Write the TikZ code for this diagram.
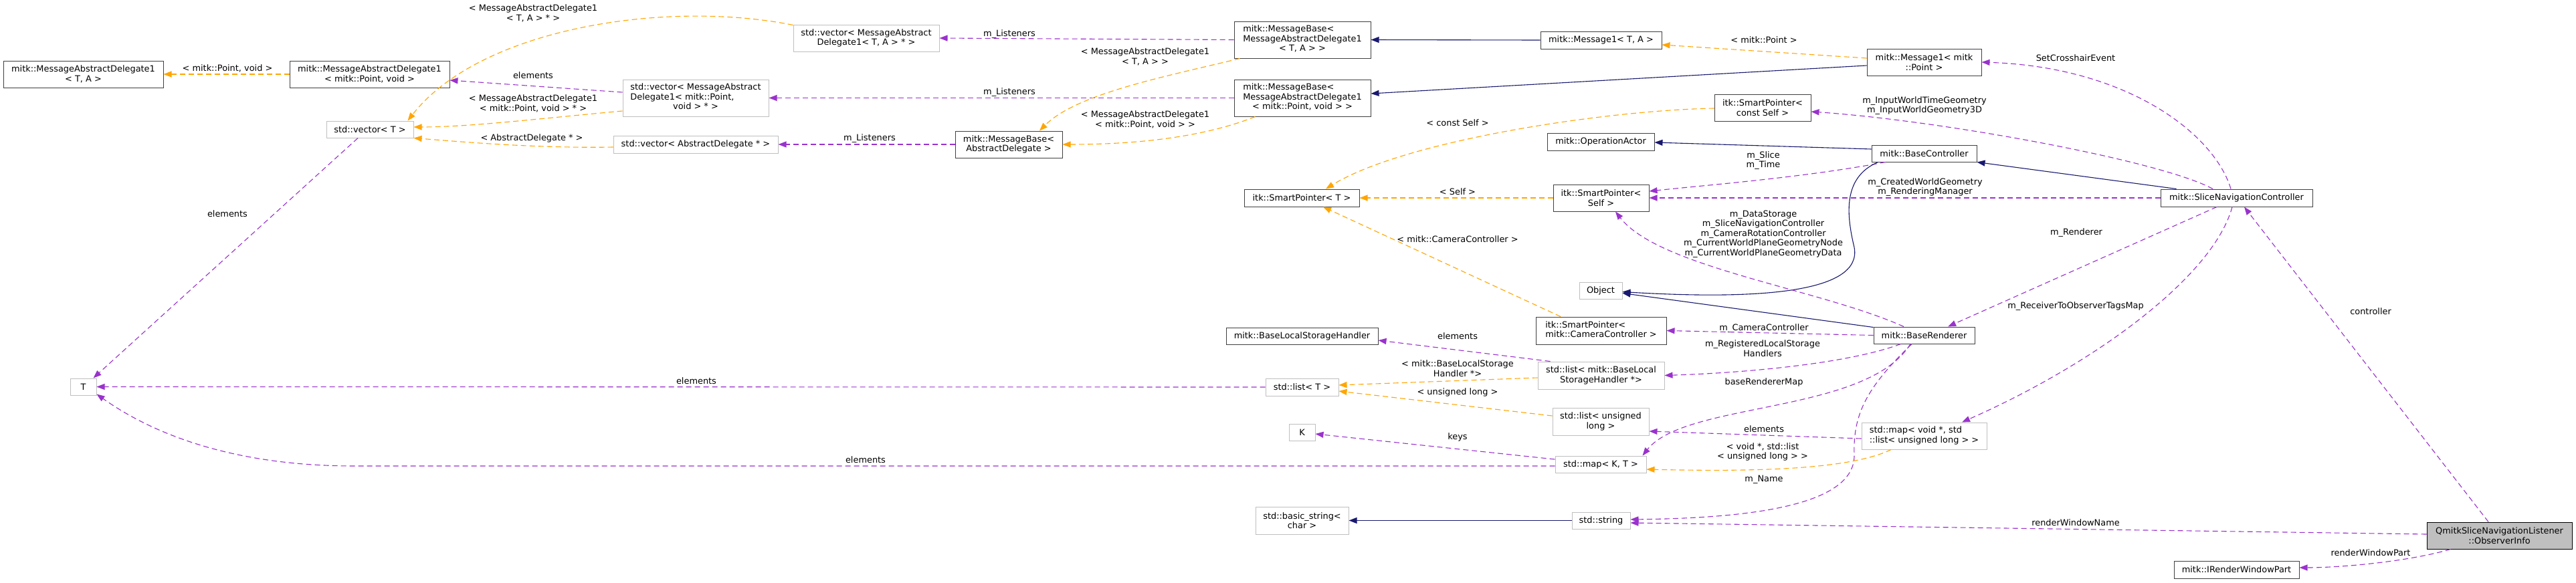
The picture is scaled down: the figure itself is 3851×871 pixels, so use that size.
\documentclass[tikz,border=0pt]{standalone}
\usepackage{fontspec}
\setmainfont{DejaVu Sans}
\usetikzlibrary{arrows.meta,calc}
\definecolor{edgepurple}{HTML}{9A32CD}
\definecolor{edgeorange}{HTML}{FFA500}
\definecolor{edgenavy}{HTML}{191970}
\definecolor{boxdark}{HTML}{404040}
\definecolor{boxgray}{HTML}{BFBFBF}
\newcommand{\gvtext}[2]{\begin{tabular}{@{}l@{}}#1\\\multicolumn{1}{@{}c@{}}{#2}\end{tabular}}
\begin{document}
\begin{tikzpicture}[x=1pt,y=-1pt,
  txt/.style={font=\fontsize{12.9}{14.5}\selectfont, inner sep=0pt, align=center},
  cls/.style={txt, draw=boxdark, line width=1pt, fill=white},
  ext/.style={txt, draw=boxgray, line width=1pt, fill=white},
  mainbox/.style={txt, draw=black, line width=1pt, fill=boxgray},
  lbl/.style={txt},
  arrtip/.style={-{Triangle[length=12pt,width=9pt]}},
  usedge/.style={draw=edgepurple, line width=1.1pt, dash pattern=on 8pt off 5pt, arrtip},
  tmpl/.style={draw=edgeorange, line width=1.1pt, dash pattern=on 8pt off 5pt, arrtip},
  inh/.style={draw=edgenavy, line width=1.1pt, arrtip},
]
\fill[white] (0,0) rectangle (3851,871);
\useasboundingbox (0,0) rectangle (3851,871);

% ---------- nodes ----------
\node[cls, minimum width=239pt, minimum height=40pt] (mad1ta) at (124.5,111) {mitk::MessageAbstractDelegate1\\< T, A >};
\node[cls, minimum width=239pt, minimum height=40pt] (mad1pt) at (552.5,111) {mitk::MessageAbstractDelegate1\\< mitk::Point, void >};
\node[ext, minimum width=130pt, minimum height=25pt] (vecT) at (553,193.5) {std::vector< T >};
\node[ext, minimum width=39pt, minimum height=25pt] (T) at (124.5,578.5) {T};
\node[ext, minimum width=218pt, minimum height=40pt] (vecTA) at (1295,57) {std::vector< MessageAbstract\\Delegate1< T, A > * >};
\node[ext, minimum width=218pt, minimum height=55pt] (vecPt) at (1040,146.5) {\gvtext{std::vector< MessageAbstract\\Delegate1< mitk::Point,}{void > * >}};
\node[ext, minimum width=246pt, minimum height=26pt] (vecAD) at (1040,216) {std::vector< AbstractDelegate * >};
\node[cls, minimum width=160pt, minimum height=40pt] (mbAD) at (1508,216) {mitk::MessageBase<\\AbstractDelegate >};
\node[cls, minimum width=204pt, minimum height=55pt] (mbTA) at (1947,59.5) {\gvtext{mitk::MessageBase<\\MessageAbstractDelegate1}{< T, A > >}};
\node[cls, minimum width=204pt, minimum height=55pt] (mbPt) at (1947,146.5) {\gvtext{mitk::MessageBase<\\MessageAbstractDelegate1}{< mitk::Point, void > >}};
\node[cls, minimum width=181pt, minimum height=26pt] (msgTA) at (2393.5,60) {mitk::Message1< T, A >};
\node[cls, minimum width=171pt, minimum height=40pt] (msgPt) at (2876.5,93) {mitk::Message1< mitk\\::Point >};
\node[cls, minimum width=144pt, minimum height=40pt] (spConst) at (2635,161) {itk::SmartPointer<\\const Self >};
\node[cls, minimum width=160pt, minimum height=26pt] (opActor) at (2393,212) {mitk::OperationActor};
\node[cls, minimum width=157pt, minimum height=25pt] (baseCtrl) at (2876.5,229.5) {mitk::BaseController};
\node[cls, minimum width=172pt, minimum height=26pt] (spT) at (1946,296) {itk::SmartPointer< T >};
\node[cls, minimum width=143pt, minimum height=40pt] (spSelf) at (2393.5,296) {itk::SmartPointer<\\Self >};
\node[cls, minimum width=227pt, minimum height=26pt] (snc) at (3343.5,296) {mitk::SliceNavigationController};
\node[ext, minimum width=64pt, minimum height=25pt] (object) at (2393,434.5) {Object};
\node[cls, minimum width=195pt, minimum height=41pt] (spCC) at (2393.5,494.5) {\gvtext{itk::SmartPointer<}{mitk::CameraController >}};
\node[cls, minimum width=151pt, minimum height=25pt] (baseRend) at (2876.5,501.5) {mitk::BaseRenderer};
\node[cls, minimum width=227pt, minimum height=25pt] (blsh) at (1946.5,502.5) {mitk::BaseLocalStorageHandler};
\node[ext, minimum width=109pt, minimum height=26pt] (listT) at (1946.5,579) {std::list< T >};
\node[ext, minimum width=189pt, minimum height=41pt] (listBLSH) at (2393.5,561.5) {std::list< mitk::BaseLocal\\StorageHandler *>};
\node[ext, minimum width=144pt, minimum height=41pt] (listUL) at (2393,630.5) {std::list< unsigned\\long >};
\node[ext, minimum width=39pt, minimum height=25pt] (K) at (1946.5,646.5) {K};
\node[ext, minimum width=136pt, minimum height=25pt] (mapKT) at (2393,694.5) {std::map< K, T >};
\node[ext, minimum width=187pt, minimum height=40pt] (mapVoid) at (2876.5,652) {\gvtext{std::map< void *, std}{::list< unsigned long > >}};
\node[ext, minimum width=139pt, minimum height=41pt] (basicStr) at (1946.5,778.5) {std::basic\_string<\\char >};
\node[ext, minimum width=87pt, minimum height=25pt] (stdStr) at (2393.5,778.5) {std::string};
\node[mainbox, minimum width=217pt, minimum height=40pt] (oi) at (3736.5,801) {QmitkSliceNavigationListener\\::ObserverInfo};
\node[cls, minimum width=187pt, minimum height=26pt] (irwp) at (3343.5,852) {mitk::IRenderWindowPart};

% ---------- edge labels ----------
\node[lbl] (l1) at (340,102) {< mitk::Point, void >};
\node[lbl] (l2) at (340,320) {elements};
\node[lbl] (l3) at (797,20) {< MessageAbstractDelegate1\\< T, A > * >};
\node[lbl] (l4) at (797,113) {elements};
\node[lbl] (l5) at (797,155) {< MessageAbstractDelegate1\\< mitk::Point, void > * >};
\node[lbl] (l6) at (795,207) {< AbstractDelegate * >};
\node[lbl] (l7) at (1509,51) {m\_Listeners};
\node[lbl] (l8) at (1509,138) {m\_Listeners};
\node[lbl] (l9) at (1300,207) {m\_Listeners};
\node[lbl] (l10) at (1712,85) {< MessageAbstractDelegate1\\< T, A > >};
\node[lbl] (l11) at (1712,179) {< MessageAbstractDelegate1\\< mitk::Point, void > >};
\node[lbl] (l12) at (1041,570) {elements};
\node[lbl] (l13) at (1294,688) {elements};
\node[lbl] (l14) at (2637,60) {< mitk::Point >};
\node[lbl] (l15) at (2179,184) {< const Self >};
\node[lbl] (l16) at (2179,287) {< Self >};
\node[lbl] (l17) at (2179,358) {< mitk::CameraController >};
\node[lbl] (l18) at (2179,503) {elements};
\node[lbl] (l19) at (2179,551) {< mitk::BaseLocalStorage\\Handler *>};
\node[lbl] (l20) at (2179,587) {< unsigned long >};
\node[lbl] (l21) at (2179,654) {keys};
\node[lbl] (l22) at (3103,87) {SetCrosshairEvent};
\node[lbl] (l23) at (2877,158) {m\_InputWorldTimeGeometry\\m\_InputWorldGeometry3D};
\node[lbl] (l24) at (2636,240) {m\_Slice\\m\_Time};
\node[lbl] (l25) at (2878,280) {m\_CreatedWorldGeometry\\m\_RenderingManager};
\node[lbl] (l26) at (2636,350) {m\_DataStorage\\m\_SliceNavigationController\\m\_CameraRotationController\\m\_CurrentWorldPlaneGeometryNode\\m\_CurrentWorldPlaneGeometryData};
\node[lbl] (l27) at (3104,348) {m\_Renderer};
\node[lbl] (l28) at (3544,466) {controller};
\node[lbl] (l29) at (2637,491) {m\_CameraController};
\node[lbl] (l30) at (2635,521) {m\_RegisteredLocalStorage\\Handlers};
\node[lbl] (l31) at (2637,572) {baseRendererMap};
\node[lbl] (l32) at (3103,458) {m\_ReceiverToObserverTagsMap};
\node[lbl] (l33) at (2637,642) {elements};
\node[lbl] (l34) at (2635,676) {< void *, std::list\\< unsigned long > >};
\node[lbl] (l35) at (2637,717) {m\_Name};
\node[lbl] (l36) at (3103,782) {renderWindowName};
\node[lbl] (l37) at (3544,827) {renderWindowPart};

% ---------- edges ----------
\draw[tmpl] (mad1pt.west) -- (mad1ta.east);
\draw[tmpl] ($(vecTA.north west)+(0,1)$) .. controls (1000,0) and (720,40) .. ($(vecT.north east)+(-9,0)$);
\draw[tmpl] ($(vecPt.west)+(0,19.5)$) .. controls (800,178) and (700,190) .. ($(vecT.east)+(0,-3.5)$);
\draw[tmpl] ($(vecAD.west)+(0,4)$) .. controls (800,222) and (690,212) .. (vecT.south east);
\draw[usedge] ($(vecT.south)+(-18,0)$) -- ($(T.north east)+(-5,0)$);
\draw[usedge] ($(vecPt.west)+(0,-8.5)$) -- ($(mad1pt.east)+(0,9)$);
\draw[usedge] (mbTA.west) -- (vecTA.east);
\draw[usedge] (mbPt.west) -- (vecPt.east);
\draw[usedge] (mbAD.west) -- (vecAD.east);
\draw[tmpl] ($(mbTA.south west)+(9,0)$) .. controls (1740,115) and (1610,140) .. ($(mbAD.north)+(46,0)$);
\draw[tmpl] ($(mbPt.south west)+(32,0)$) .. controls (1800,205) and (1700,216) .. (mbAD.east);
\draw[inh] (msgTA.west) -- (mbTA.east);
\draw[inh] ($(msgPt.west)+(0,5)$) -- ($(mbPt.east)+(0,-6.5)$);
\draw[tmpl] ($(msgPt.west)+(0,-6)$) -- ($(msgTA.east)+(0,7)$);
\draw[usedge] ($(snc.north)+(-8.5,0)$) .. controls (3310,200) and (3180,100) .. (msgPt.east);
\draw[tmpl] ($(spConst.west)+(0,1)$) .. controls (2400,165) and (2100,210) .. ($(spT.north)+(36,0)$);
\draw[usedge] ($(snc.north)+(-35.5,0)$) .. controls (3230,240) and (2900,180) .. ($(spConst.east)+(0,6)$);
\draw[inh] ($(baseCtrl.west)+(0,-6.5)$) -- ($(opActor.east)+(0,1)$);
\draw[inh] ($(snc.north west)+(24,0)$) -- (baseCtrl.south east);
\draw[usedge] ($(baseCtrl.south west)+(21,0)$) .. controls (2700,265) and (2560,276) .. ($(spSelf.east)+(0,-10)$);
\draw[usedge] (snc.west) -- (spSelf.east);
\draw[tmpl] (spSelf.west) -- (spT.east);
\draw[tmpl] ($(spCC.north)+(-60.5,0)$) -- ($(spT.south)+(32,0)$);
\coordinate (bcBend) at (2772,370);
\draw[inh] ($(baseCtrl.south west)+(10,0)$) .. controls (2755,265) and (2760,320) .. (bcBend) .. controls (2785,440) and (2620,448) .. ($(object.east)+(0,2)$);
\draw[inh] ($(baseRend.north west)+(0,1)$) -- ($(object.east)+(0,4)$);
\draw[usedge] ($(baseRend.north)+(-30.5,0)$) .. controls (2720,432) and (2480,400) .. ($(spSelf.south)+(21.5,0)$);
\draw[usedge] ($(snc.south)+(-29.5,0)$) -- ($(baseRend.north)+(35.5,0)$);
\draw[usedge] ($(snc.south)+(-6.5,0)$) .. controls (3310,410) and (3140,540) .. ($(mapVoid.north)+(56.5,0)$);
\draw[usedge] ($(oi.north)+(-16.5,0)$) -- ($(snc.south)+(11.5,0)$);
\draw[usedge] (baseRend.west) -- (spCC.east);
\draw[usedge] ($(baseRend.south west)+(41,0)$) .. controls (2760,545) and (2600,558) .. (listBLSH.east);
\draw[usedge] ($(baseRend.south)+(-20.5,0)$) .. controls (2790,620) and (2520,600) .. ($(mapKT.north east)+(-6,0)$);
\coordinate (nmBend) at (2772,680);
\draw[usedge] ($(baseRend.south)+(-18.5,0)$) .. controls (2790,580) and (2770,620) .. (nmBend) .. controls (2774,760) and (2600,775) .. ($(stdStr.east)+(0,-1.5)$);
\draw[usedge] ($(listBLSH.north west)+(19,0)$) -- ($(blsh.east)+(0,6.5)$);
\draw[tmpl] ($(listBLSH.west)+(0,3.5)$) -- ($(listT.east)+(0,-3)$);
\draw[usedge] (listT.west) -- (T.east);
\draw[tmpl] ($(listUL.west)+(0,-8.5)$) -- ($(listT.east)+(0,6)$);
\draw[usedge] ($(mapVoid.west)+(0,4)$) -- ($(listUL.east)+(0,14.5)$);
\draw[usedge] ($(mapKT.west)+(0,-7.5)$) -- ($(K.east)+(0,2.5)$);
\coordinate (mkBend) at (530,697);
\draw[usedge] ($(mapKT.west)+(0,2.5)$) -- (mkBend) .. controls (350,697) and (230,650) .. ($(T.south east)+(0,-2)$);
\draw[tmpl] ($(mapVoid.south)+(-49.5,0)$) .. controls (2760,705) and (2600,705) .. ($(mapKT.east)+(0,7.5)$);
\draw[inh] (stdStr.west) -- (basicStr.east);
\draw[usedge] ($(oi.west)+(0,-2)$) -- ($(stdStr.east)+(0,3.5)$);
\draw[usedge] ($(oi.south west)+(36,0)$) .. controls (3600,840) and (3500,849) .. ($(irwp.east)+(0,-3)$);
\end{tikzpicture}
\end{document}
